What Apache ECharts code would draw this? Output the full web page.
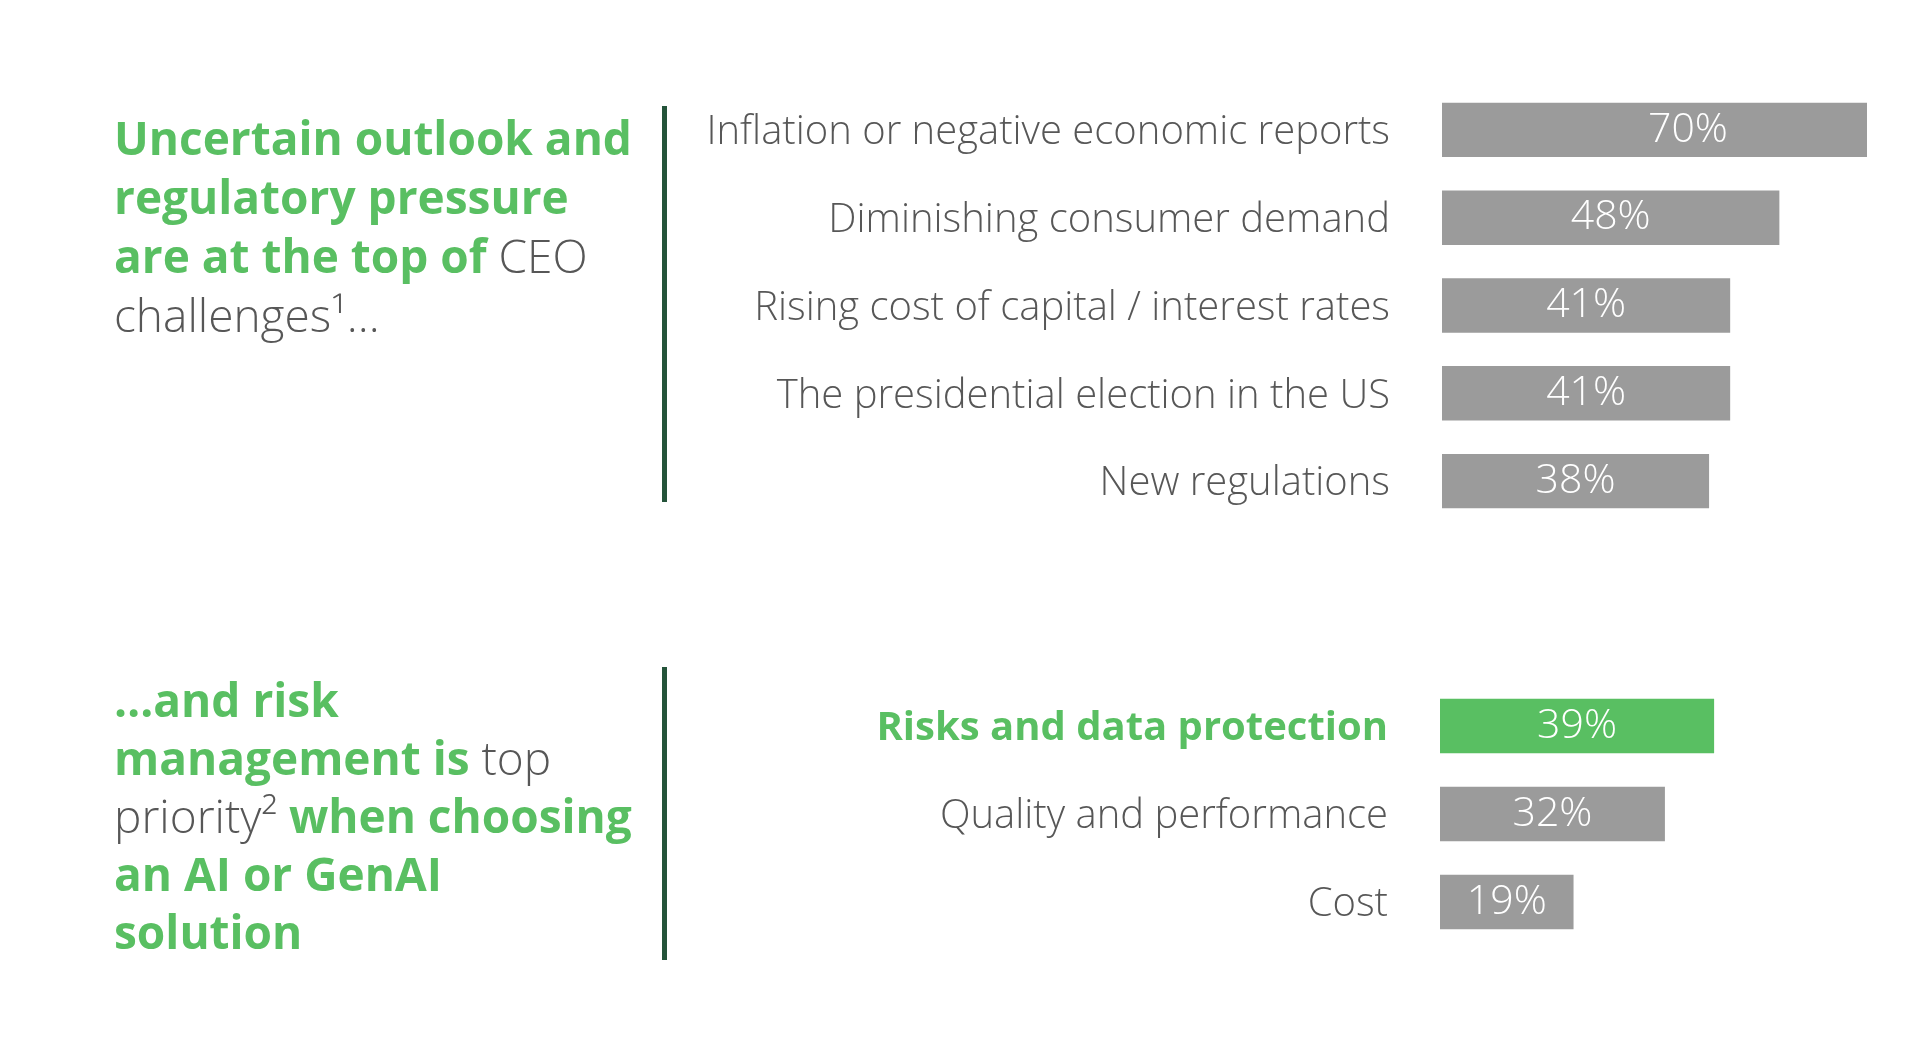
<!DOCTYPE html>
<html>
<head>
<meta charset="utf-8">
<script src="https://cdn.jsdelivr.net/npm/echarts@6/dist/echarts.min.js"></script>
<style>
  html, body { margin: 0; padding: 0; background: #fff; }
  #wrap { width: 1867px; height: 1040px; overflow: hidden; }
  #chart { width: 1960px; height: 1040px; }
</style>
</head>
<body>
<div id="wrap"><div id="chart"></div></div>
<script>
// CEO challenges (top panel)
const challengeCats = [
  'Inflation or negative economic reports',
  'Diminishing consumer demand',
  'Rising cost of capital / interest rates',
  'The presidential election in the US',
  'New regulations'
];
const challengeVals = [70, 48, 41, 41, 38];

// AI / GenAI selection criteria (bottom panel)
const criteriaCats = ['Risks and data protection', 'Quality and performance', 'Cost'];
const criteriaVals = [39, 32, 19];
const highlightCat = 'Risks and data protection';

const GREEN = '#59bf62';
const GREY_BAR = '#9b9b9b';
const TEXT = '#575757';
const FONT = 'Open Sans';

var chart = echarts.init(document.getElementById('chart'));

var labelStyle = {
  show: true,
  position: 'inside',
  color: '#fff',
  fontFamily: FONT,
  fontWeight: 300,
  fontSize: 41,
  padding: [6, 0, 0, 0],
  formatter: '{c}%'
};

function catAxis(idx, cats) {
  return {
    type: 'category',
    gridIndex: idx,
    data: cats,
    inverse: true,
    axisLine: { show: false },
    axisTick: { show: false },
    splitLine: { show: false },
    axisLabel: {
      margin: 52,
      padding: [6, 0, 0, 0],
      color: TEXT,
      fontFamily: FONT,
      fontWeight: 300,
      fontSize: 40,
      formatter: function (v) {
        return v === highlightCat ? '{hl|' + v + '}' : v;
      },
      rich: {
        hl: { color: GREEN, fontFamily: FONT, fontWeight: 'bold', fontSize: 40 }
      }
    }
  };
}

var titleRich = function (lh) {
  return {
    g: { fill: GREEN, fontFamily: FONT, fontWeight: 'bold', fontSize: 46, lineHeight: lh },
    n: { fill: TEXT, fontFamily: FONT, fontWeight: 300, fontSize: 46, lineHeight: lh }
  };
};

var option = {
  animation: false,
  backgroundColor: '#fff',
  grid: [
    { left: 1442, top: 86, width: 492, height: 439 },
    { left: 1440, top: 682, width: 492, height: 264 }
  ],
  xAxis: [
    { type: 'value', gridIndex: 0, min: 0, max: 70, show: false },
    { type: 'value', gridIndex: 1, min: 0, max: 70, show: false }
  ],
  yAxis: [catAxis(0, challengeCats), catAxis(1, criteriaCats)],
  series: [
    {
      type: 'bar',
      xAxisIndex: 0,
      yAxisIndex: 0,
      data: challengeVals,
      barCategoryGap: '38%',
      itemStyle: { color: GREY_BAR },
      label: labelStyle
    },
    {
      type: 'bar',
      xAxisIndex: 1,
      yAxisIndex: 1,
      data: criteriaVals.map(function (v, i) {
        return {
          value: v,
          itemStyle: { color: criteriaCats[i] === highlightCat ? GREEN : GREY_BAR }
        };
      }),
      barCategoryGap: '38%',
      label: labelStyle
    }
  ],
  graphic: [
    {
      type: 'text',
      left: 114,
      top: 119,
      style: {
        text: '{g|Uncertain outlook and}\n{g|regulatory pressure}\n{g|are at the top of }{n|CEO}\n{n|challenges¹…}',
        rich: titleRich(59)
      }
    },
    {
      type: 'text',
      left: 114,
      top: 681,
      style: {
        text: '{g|…and risk}\n{g|management is }{n|top}\n{n|priority² }{g|when choosing}\n{g|an AI or GenAI}\n{g|solution}',
        rich: titleRich(58)
      }
    },
    {
      type: 'rect',
      shape: { x: 662, y: 106, width: 5, height: 396 },
      style: { fill: '#24543a' }
    },
    {
      type: 'rect',
      shape: { x: 662, y: 667, width: 5, height: 293 },
      style: { fill: '#24543a' }
    }
  ]
};

chart.setOption(option);
</script>
</body>
</html>
